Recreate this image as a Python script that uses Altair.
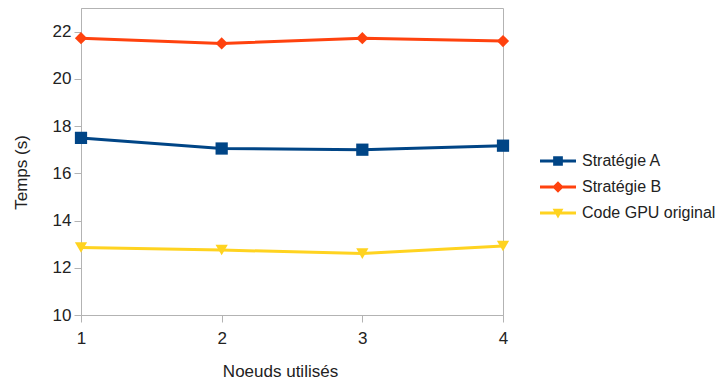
import altair as alt
import pandas as pd

nodes = [1, 2, 3, 4]
series_names = ["Stratégie A", "Stratégie B", "Code GPU original"]
strat_a = [17.5, 17.05, 17.0, 17.17]
strat_b = [21.72, 21.5, 21.72, 21.6]
gpu_orig = [12.86, 12.75, 12.6, 12.92]
y_ticks = [10, 12, 14, 16, 18, 20, 22]

colors = ["#004586", "#ff420e", "#ffd320"]
marker_shapes = ["square", "diamond", "triangle-down"]
legend_paths = [
    "M-1,-0.08H1V0.08H-1Z M-0.27,-0.27H0.27V0.27H-0.27Z",
    "M-1,-0.08H1V0.08H-1Z M0,-0.32L0.32,0L0,0.32L-0.32,0Z",
    "M-1,-0.08H1V0.08H-1Z M-0.3,-0.24L0.3,-0.24L0,0.3Z",
]

rows = []
for name, vals in zip(series_names, [strat_a, strat_b, gpu_orig]):
    for n, v in zip(nodes, vals):
        rows.append({"nodes": n, "temps": v, "series": name})
df = pd.DataFrame(rows)

FONT = "Liberation Sans"
FS = 17
GRAY = "#b3b3b3"
TXT = "#222222"

x = alt.X(
    "nodes:Q",
    scale=alt.Scale(domain=[1, 4], nice=False, zero=False),
    axis=alt.Axis(values=nodes, format="d", title="Noeuds utilisés",
                  labelFlush=False, labelPadding=8,
                  titleX=199, titleY=61, titleAlign="center", titleBaseline="alphabetic"),
)
y = alt.Y(
    "temps:Q",
    scale=alt.Scale(domain=[10, 23], nice=False, zero=False),
    axis=alt.Axis(values=y_ticks, title="Temps (s)", labelPadding=3,
                  titleX=-60, titleY=164, titleAngle=270, titleAlign="center",
                  titleBaseline="middle"),
)

base = alt.Chart(df)

line_layers = [
    base.transform_filter(alt.datum.series == name)
    .mark_line(strokeWidth=3, color=col)
    .encode(x=x, y=y)
    for name, col in zip(series_names, colors)
]

point_layers = [
    base.transform_filter(alt.datum.series == name)
    .mark_point(shape=shp, filled=True, size=150, color=col, opacity=1)
    .encode(x=x, y=y)
    for name, shp, col in zip(series_names, marker_shapes, colors)
]

leg = dict(title=None, orient="none", legendX=459, legendY=135, symbolSize=1296,
           symbolStrokeWidth=0, labelFont=FONT, labelFontSize=16, labelColor=TXT,
           labelOffset=6, rowPadding=-3, padding=0, offset=0, labelLimit=300)

legend_layer = base.transform_filter("false").mark_point(filled=True, opacity=1).encode(
    x=x, y=y,
    fill=alt.Fill("series:N", scale=alt.Scale(domain=series_names, range=colors),
                  legend=alt.Legend(**leg)),
    shape=alt.Shape("series:N", scale=alt.Scale(domain=series_names, range=legend_paths),
                    legend=alt.Legend(**leg)),
)

chart = alt.layer(*line_layers, *point_layers, legend_layer).properties(
    width=422, height=307,
    autosize=alt.AutoSizeParams(type="none"),
    padding={"left": 73, "top": 0, "right": 215, "bottom": 65},
    background="white",
).configure_view(
    stroke=GRAY, strokeWidth=1,
).configure_axis(
    grid=False, domainColor=GRAY, tickColor=GRAY, tickSize=7,
    labelFont=FONT, labelFontSize=FS, labelColor=TXT,
    titleFont=FONT, titleFontSize=FS, titleFontWeight="normal", titleColor=TXT,
)

chart.save("out.html", embed_options={"renderer": "svg", "actions": False})
